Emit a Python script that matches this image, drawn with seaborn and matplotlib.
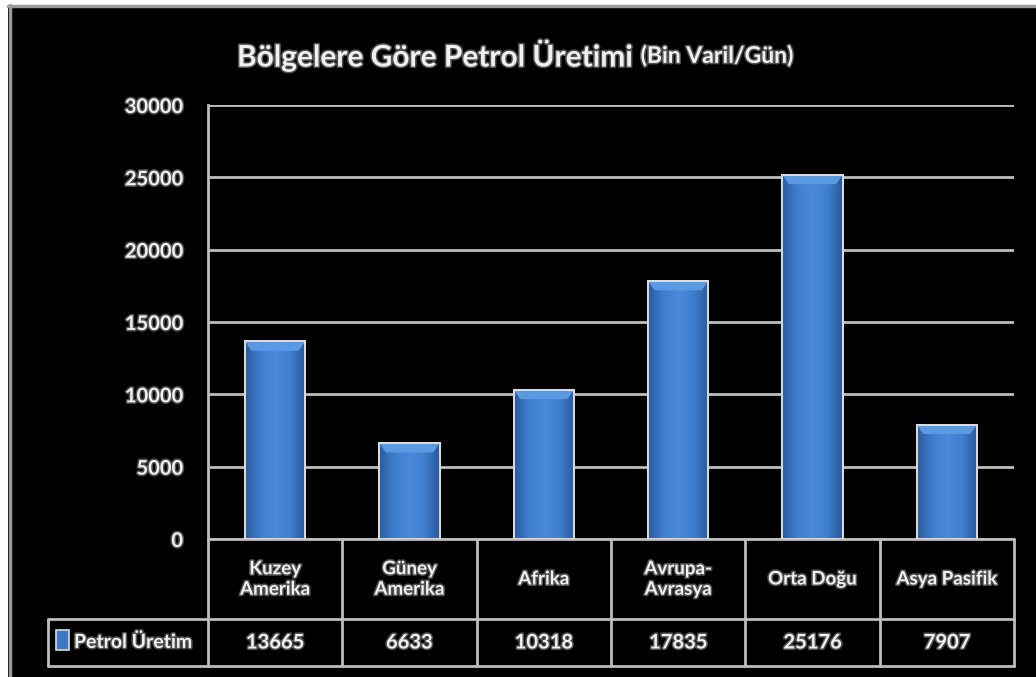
import numpy as np
import pandas as pd
import matplotlib
matplotlib.use("Agg")
import matplotlib.pyplot as plt
import matplotlib.patheffects as pe
from matplotlib.patches import Polygon, Rectangle
from matplotlib.lines import Line2D
from matplotlib.colors import LinearSegmentedColormap
import seaborn as sns

# Production by region (thousand barrels per day)
regions = ["Kuzey\nAmerika", "Güney\nAmerika", "Afrika", "Avrupa-\nAvrasya", "Orta Doğu", "Asya Pasifik"]
production = [13665, 6633, 10318, 17835, 25176, 7907]
y_ticks = [0, 5000, 10000, 15000, 20000, 25000, 30000]
series_name = "Petrol Üretim"
title_main = "Bölgelere Göre Petrol Üretimi"
title_unit = "(Bin Varil/Gün)"

df = pd.DataFrame({"Bölge": regions, "Üretim": production})

sns.set_theme(style="dark")
plt.rcParams["font.family"] = ["Lato", "DejaVu Sans"]
plt.rcParams["font.weight"] = "bold"

W, H = 1036, 677
fig = plt.figure(figsize=(W / 100, H / 100), dpi=100, facecolor="black")

# plot area in pixel coordinates
x0, x1 = 208, 1014
y_top, y_bot = 105, 539
ax = fig.add_axes([x0 / W, 1 - y_bot / H, (x1 - x0) / W, (y_bot - y_top) / H])
ax.set_facecolor("black")

txt_fx = [pe.withStroke(linewidth=2.2, foreground="#505050")]
grid_c = "#bdbdbd"

sns.barplot(data=df, x="Bölge", y="Üretim", color="#3b78c6", width=0.45,
            edgecolor="#e4e4e4", linewidth=1.4, ax=ax, zorder=3)

ax.set_xlim(-0.5, len(regions) - 0.5)
ax.set_ylim(0, 30000)
ax.set_yticks(y_ticks)
ax.set_yticklabels([str(v) for v in y_ticks])
ax.set_xticks([])
ax.set_xlabel("")
ax.set_ylabel("")
for lab in ax.get_yticklabels():
    lab.set_color("#f0f0f0")
    lab.set_fontsize(14.5)
    lab.set_fontweight("bold")
    lab.set_path_effects(txt_fx)
ax.tick_params(axis="y", length=0, pad=18)
ax.yaxis.grid(True, color=grid_c, linewidth=2)
ax.set_axisbelow(True)
for s in ["top", "right", "bottom"]:
    ax.spines[s].set_visible(False)
ax.spines["left"].set_color(grid_c)
ax.spines["left"].set_linewidth(2)

# shaded bar bodies with a lighter bevelled top
cmap = LinearSegmentedColormap.from_list(
    "bevel", ["#2b5c9f", "#3f7fcf", "#4a8ad8", "#3f7fcf", "#2a599a"])
grad = np.linspace(0, 1, 64).reshape(1, -1)
for p in ax.patches:
    bx, by, bw, bh = p.get_x(), p.get_y(), p.get_width(), p.get_height()
    im = ax.imshow(grad, cmap=cmap, aspect="auto", extent=(bx, bx + bw, by, by + bh),
                   zorder=3.5, interpolation="bicubic")
    im.set_clip_path(p)
    cap = 650
    ins = 0.05
    ax.add_patch(Polygon([(bx, by + bh), (bx + bw, by + bh),
                          (bx + bw - ins, by + bh - cap), (bx + ins, by + bh - cap)],
                         closed=True, facecolor="#5b9ae2", edgecolor="none", zorder=3.6))
    ax.add_patch(Rectangle((bx, by), bw, bh, facecolor="none", edgecolor="#dcdcdc",
                           linewidth=1.4, zorder=3.8))
ax.set_xlim(-0.5, len(regions) - 0.5)
ax.set_ylim(0, 30000)

# data table below the plot area
tr = ax.get_xaxis_transform()
ah = y_bot - y_top
r1 = -80 / ah
r2 = -127 / ah
leg_left = -0.5 - (x0 - 48) / ((x1 - x0) / len(regions))
n = len(regions)

def hline(xa, xb, yy):
    ax.add_line(Line2D([xa, xb], [yy, yy], transform=tr, color=grid_c, lw=2, clip_on=False))

def vline(xx, ya, yb):
    ax.add_line(Line2D([xx, xx], [ya, yb], transform=tr, color=grid_c, lw=2, clip_on=False))

hline(-0.5, n - 0.5, 0)
hline(leg_left, n - 0.5, r1)
hline(leg_left, n - 0.5, r2)
for i in range(n + 1):
    vline(i - 0.5, 0, r2)
vline(leg_left, r1, r2)

for i, (name, val) in enumerate(zip(regions, production)):
    ax.text(i, r1 / 2, name, transform=tr, ha="center", va="center", fontsize=13.5,
            color="#f0f0f0", fontweight="bold", linespacing=1.25, path_effects=txt_fx, clip_on=False)
    ax.text(i, (r1 + r2) / 2, str(val), transform=tr, ha="center", va="center", fontsize=14.5,
            color="#f0f0f0", fontweight="bold", path_effects=txt_fx, clip_on=False)

# legend key inside the table
fig.patches.append(Rectangle((56 / W, 1 - 650 / H), 13 / W, 20 / H, transform=fig.transFigure,
                             facecolor="#3b78c6", edgecolor="#dcdcdc", linewidth=1.2))
fig.text(74 / W, 1 - 642 / H, series_name, ha="left", va="center", fontsize=14,
         color="#f0f0f0", fontweight="bold", path_effects=txt_fx)

# title
t1 = fig.text(237 / W, 1 - 55 / H, title_main, ha="left", va="center", fontsize=21.5,
              color="#f0f0f0", fontweight="bold", path_effects=txt_fx)
fig.canvas.draw()
bb = t1.get_window_extent()
fig.text((bb.x1 + 7) / W, 1 - 56 / H, title_unit, ha="left", va="center", fontsize=16.5,
         color="#f0f0f0", fontweight="bold", path_effects=txt_fx)

# outer frame along the top and left edges
fig.patches.append(Rectangle((0, 0), 8 / W, 1, transform=fig.transFigure,
                             facecolor="white", edgecolor="none"))
fig.patches.append(Rectangle((0, 1 - 5 / H), 1, 5 / H, transform=fig.transFigure,
                             facecolor="white", edgecolor="none"))
fig.lines.append(Line2D([9.5 / W, 9.5 / W], [0, 1 - 5 / H], transform=fig.transFigure,
                        color="#9a9a9a", lw=2.5))
fig.lines.append(Line2D([8 / W, 1], [1 - 6 / H, 1 - 6 / H], transform=fig.transFigure,
                        color="#9a9a9a", lw=2.5))

fig.savefig("out.png", dpi=100, facecolor="black")
